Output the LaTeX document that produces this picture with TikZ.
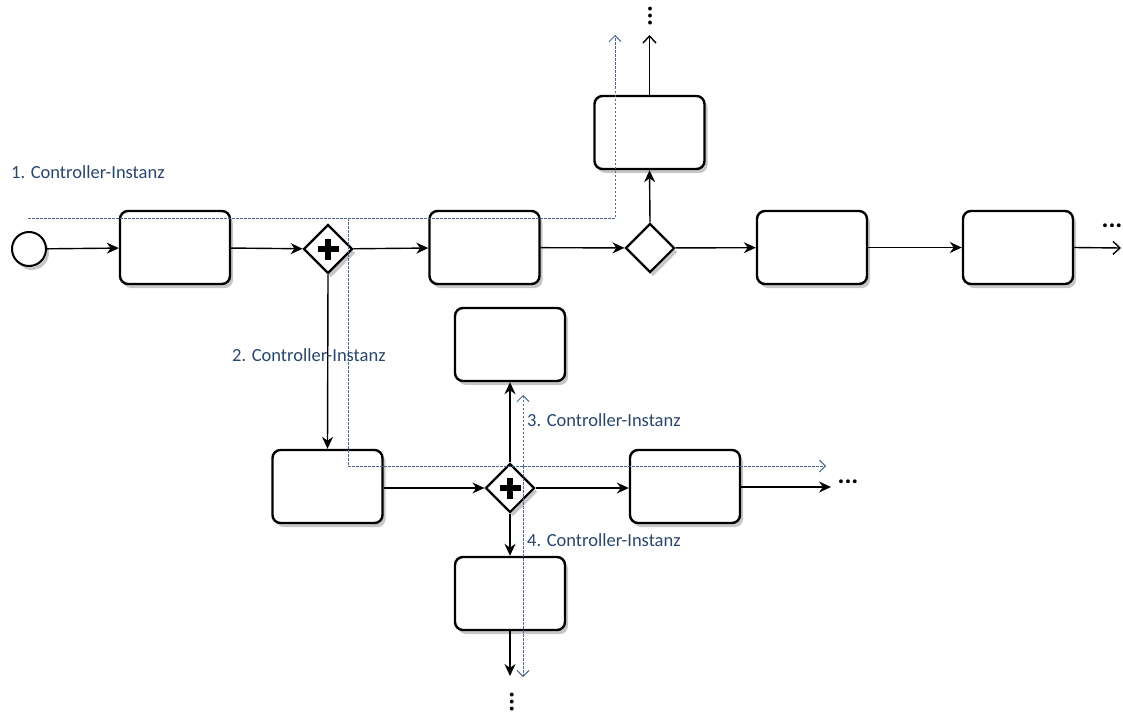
\documentclass[tikz,border=0pt]{standalone}
\usepackage{fontspec}
\setmainfont{Carlito}
\usetikzlibrary{shapes.geometric,arrows.meta,shadows}
\definecolor{ctrltext}{RGB}{40,70,110}
\definecolor{ctrlline}{RGB}{75,105,145}
\begin{document}
\begin{tikzpicture}[x=1pt,y=-1pt,
  shd/.style={drop shadow={shadow xshift=3pt,shadow yshift=-4pt,opacity=0.22,fill=black}},
  task/.style={draw=black,line width=2.4pt,rounded corners=8pt,fill=white,minimum width=110pt,minimum height=73pt,inner sep=0pt,shd},
  gate/.style={draw=black,line width=2.2pt,diamond,fill=white,minimum width=49pt,minimum height=49pt,inner sep=0pt,shd},
  startev/.style={draw=black,line width=2pt,circle,fill=white,minimum size=34pt,inner sep=0pt,shd},
  flow/.style={line width=1.4pt,-{Stealth[length=12pt,width=11pt]}},
  openflow/.style={line width=1.4pt,-{Straight Barb[length=7pt,width=13pt]}},
  ctrl/.style={draw=ctrlline,line width=1pt,dash pattern=on 2.5pt off 1.5pt,-{Straight Barb[length=6pt,width=12pt]}},
  ctrllabel/.style={text=ctrltext,font=\fontsize{18.5}{20}\selectfont,anchor=west,inner sep=0pt},
  dots/.style={font=\fontsize{26}{26}\selectfont\bfseries,inner sep=0pt}
]
\useasboundingbox (0,0) rectangle (1123,717);
% nodes
\node[startev] (st) at (29,249) {};
\node[task] (b1) at (175,247.5) {};
\node[gate] (g1) at (328,249) {};
\node[task] (b2) at (484.5,247.5) {};
\node[gate] (g2) at (650,248) {};
\node[task] (bt) at (649.5,132.5) {};
\node[task] (b3) at (812,247.5) {};
\node[task] (b4) at (1018,247.5) {};
\node[task] (bl) at (327.5,486.5) {};
\node[gate] (g3) at (510,488) {};
\node[task] (bu) at (510,344.5) {};
\node[task] (br) at (685,486.5) {};
\node[task] (bd) at (510,593.5) {};
% plus marks
\foreach \g in {g1,g3}{
  \draw[line width=6pt] ([xshift=-10.5pt]\g.center) -- ([xshift=10.5pt]\g.center);
  \draw[line width=6pt] ([yshift=-10.5pt]\g.center) -- ([yshift=10.5pt]\g.center);
}
% free ends
\coordinate (e1) at (1121,248);
\coordinate (e2) at (649.5,35);
\coordinate (e3) at (831,487);
\coordinate (e4) at (510,676);
\node[dots] (d1) at (1112,226) {...};
\node[dots,rotate=90] (d2) at (650,16) {...};
\node[dots] (d3) at (848,482) {...};
\node[dots,rotate=90] (d4) at (512,702) {...};
% flows
\draw[flow] (st) -- (b1);
\draw[flow] (b1) -- (g1);
\draw[flow] (g1) -- (b2);
\draw[flow] (b2) -- (g2);
\draw[flow] (g2) -- (b3);
\draw[flow] (b3) -- (b4);
\draw[openflow] (b4.east) -- (e1);
\draw[flow] (g2.north) -- (bt.south);
\draw[openflow] (bt.north) -- (e2);
\draw[flow] (g1.south) -- (bl.north);
\draw[flow] (bl.east|-g3) -- (g3);
\draw[flow] (g3) -- (br.west|-g3);
\draw[flow] (br.east|-e3) -- (e3);
\draw[flow] (g3.north) -- (bu.south);
\draw[flow] (g3.south) -- (bd.north);
\draw[flow] (bd.south) -- (e4);
% controller instances
\coordinate (c1s) at (28,218);
\coordinate (c1k) at (615,218);
\coordinate (c1e) at (615,35);
\coordinate (c2s) at (348,218);
\coordinate (c2k) at (348,466);
\coordinate (c2e) at (826,466);
\coordinate (c3s) at (523,466);
\coordinate (c3e) at (523,395);
\coordinate (c4e) at (523,677);
\draw[ctrl] (c1s) -- (c1k) -- (c1e);
\draw[ctrl] (c2s) -- (c2k) -- (c2e);
\draw[ctrl] (c3s) -- (c3e);
\draw[ctrl] (c3s) -- (c4e);
\node[ctrllabel] (l1) at (11,172) {1. Controller-Instanz};
\node[ctrllabel] (l2) at (232,355) {2. Controller-Instanz};
\node[ctrllabel] (l3) at (527,420) {3. Controller-Instanz};
\node[ctrllabel] (l4) at (527,540) {4. Controller-Instanz};
\end{tikzpicture}
\end{document}
